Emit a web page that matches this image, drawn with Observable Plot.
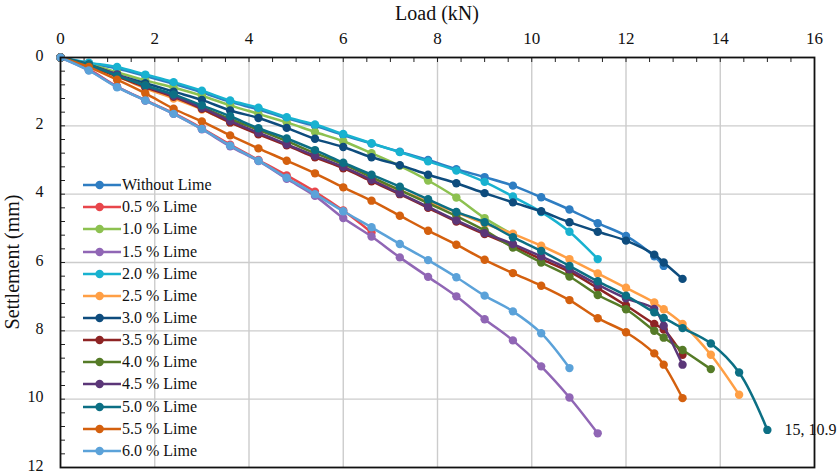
<!DOCTYPE html>
<html><head><meta charset="utf-8">
<script src="https://cdn.jsdelivr.net/npm/d3@7"></script>
<script src="https://cdn.jsdelivr.net/npm/@observablehq/plot@0.6"></script>
<style>
body{margin:0;background:#fff;}
#wrap{position:relative;width:837px;height:474px;font-family:'Liberation Serif','Tinos','DejaVu Serif',serif;color:#111;}
#legend{position:absolute;left:83px;top:174px;font-size:16px;}
.row{height:22.17px;display:flex;align-items:center;white-space:nowrap;}
.row svg{display:block;}
#xtitle{position:absolute;left:437px;top:2px;transform:translateX(-50%);font-size:20px;line-height:22px;white-space:nowrap;}
#ytitle{position:absolute;left:12px;top:262px;transform:translate(-50%,-50%) rotate(-90deg);font-size:20px;line-height:22px;white-space:nowrap;}
</style></head><body>
<div id="wrap"><div id="xtitle">Load (kN)</div><div id="ytitle">Settlement (mm)</div></div>
<script>
// Load steps (kN)
const loads = [0, 0.6, 1.2, 1.8, 2.4, 3.0, 3.6, 4.2, 4.8, 5.4, 6.0, 6.6, 7.2, 7.8, 8.4, 9.0, 9.6, 10.2, 10.8, 11.4, 12.0, 12.6, 12.8, 13.2, 13.8, 14.4, 15.0];

// Settlement (mm) per series, in load order
const withoutLime = [0,0.17,0.32,0.54,0.77,1.02,1.3,1.52,1.78,2.0,2.27,2.52,2.76,3.0,3.27,3.5,3.75,4.09,4.45,4.85,5.22,5.82,6.1];
const lime05 = [0,0.35,0.85,1.25,1.63,2.07,2.55,3.0,3.45,3.93,4.48,5.12];
const lime10 = [0,0.19,0.43,0.67,0.88,1.12,1.4,1.65,1.9,2.18,2.45,2.8,3.17,3.6,4.1,4.7,5.18];
const lime15 = [0,0.37,0.86,1.26,1.65,2.1,2.6,3.03,3.55,4.05,4.7,5.24,5.85,6.42,6.99,7.66,8.28,9.04,9.95,11.0];
const lime20 = [0,0.15,0.28,0.5,0.72,0.97,1.26,1.47,1.75,1.96,2.24,2.51,2.77,3.04,3.31,3.64,4.07,4.52,5.1,5.9];
const lime25 = [0,0.25,0.55,0.9,1.2,1.52,1.9,2.22,2.55,2.9,3.22,3.57,3.88,4.22,4.53,4.86,5.16,5.51,5.9,6.32,6.74,7.17,7.37,7.8,8.7,9.87];
const lime30 = [0,0.2,0.5,0.75,1.0,1.24,1.55,1.77,2.06,2.38,2.62,2.92,3.15,3.43,3.68,3.97,4.24,4.5,4.82,5.1,5.36,5.77,6.0,6.48];
const lime35 = [0,0.25,0.55,0.87,1.15,1.5,1.9,2.25,2.57,2.92,3.24,3.62,4.0,4.4,4.8,5.17,5.52,5.9,6.27,6.75,7.26,7.8,7.96,8.7];
const lime40 = [0,0.22,0.52,0.82,1.1,1.45,1.8,2.12,2.45,2.8,3.12,3.5,3.88,4.26,4.64,5.06,5.56,6.0,6.41,6.95,7.37,8.0,8.2,8.56,9.12];
const lime45 = [0,0.24,0.5,0.84,1.12,1.47,1.86,2.2,2.54,2.88,3.2,3.58,3.98,4.37,4.77,5.14,5.46,5.82,6.2,6.65,7.05,7.36,7.85,8.99];
const lime50 = [0,0.22,0.53,0.82,1.08,1.4,1.72,2.07,2.37,2.71,3.08,3.43,3.78,4.15,4.52,4.82,5.26,5.66,6.1,6.55,6.97,7.46,7.62,7.92,8.37,9.22,10.9];
const lime55 = [0,0.28,0.65,1.05,1.5,1.87,2.28,2.66,3.02,3.39,3.8,4.19,4.63,5.07,5.48,5.92,6.31,6.68,7.1,7.63,8.04,8.66,8.99,9.97];
const lime60 = [0,0.38,0.87,1.26,1.65,2.09,2.58,3.02,3.52,4.0,4.5,4.97,5.46,5.93,6.43,6.97,7.43,8.07,9.09];

const seriesNames = ["Without Lime","0.5 % Lime","1.0 % Lime","1.5 % Lime","2.0 % Lime","2.5 % Lime","3.0 % Lime","3.5 % Lime","4.0 % Lime","4.5 % Lime","5.0 % Lime","5.5 % Lime","6.0 % Lime"];
const seriesValues = [withoutLime, lime05, lime10, lime15, lime20, lime25, lime30, lime35, lime40, lime45, lime50, lime55, lime60];
const seriesColors = ["#2E7DC2","#E8464B","#8DC150","#9066B5","#18B2D0","#FF9F45","#0E4C7D","#8E2424","#557B27","#5B3678","#0C6F84","#D4600E","#5BA2D9"];

// Axis ticks
const xTicks = [0, 2, 4, 6, 8, 10, 12, 14, 16];
const yTicks = [0, 2, 4, 6, 8, 10, 12];
const xMinor = d3.range(0, 16.001, 0.5);
const yMinor = d3.range(0, 12.001, 0.4);

const series = seriesNames.map((name, i) => ({
  name, color: seriesColors[i],
  data: seriesValues[i].map((v, j) => ({load: loads[j], settlement: v, series: name}))
}));

const lastTeal = series[10].data[series[10].data.length - 1];

const seriesMarks = series.flatMap(s => [
  Plot.line(s.data, {x: "load", y: "settlement", stroke: s.color, strokeWidth: 2.5, curve: "catmull-rom"}),
  Plot.dot(s.data, {x: "load", y: "settlement", fill: s.color, r: 4.2})
]);

const FONT = "'Liberation Serif', 'Tinos', 'DejaVu Serif', serif";

const chart = Plot.plot({
  width: 837, height: 474,
  marginLeft: 60, marginRight: 23, marginTop: 57, marginBottom: 7,
  style: {fontFamily: FONT, background: "transparent", color: "#111", overflow: "visible"},
  x: {domain: [0, 16]},
  y: {domain: [0, 12], reverse: true},
  marks: [
    Plot.gridX(xTicks.filter(v => v > 0 && v < 16), {stroke: "#cccccc", strokeOpacity: 1, strokeWidth: 1.4}),
    Plot.gridY(yTicks.filter(v => v > 0 && v < 12), {stroke: "#cccccc", strokeOpacity: 1, strokeWidth: 1.4}),
    Plot.tickX(xMinor, {x: d => d, insetBottom: 405, stroke: "#222"}),
    Plot.tickY(yMinor, {y: d => d, insetRight: 749, stroke: "#222"}),
    Plot.axisX({anchor: "top", ticks: xTicks, tickSize: 0, tickPadding: 14, fontSize: 17, fontFamily: FONT, label: null}),
    Plot.axisY({anchor: "left", ticks: yTicks, tickSize: 0, tickPadding: 17, fontSize: 16, fontFamily: FONT, dy: -2, label: null}),
    ...seriesMarks,
    Plot.frame({stroke: "#111", strokeWidth: 1.8}),
    Plot.text([lastTeal], {x: "load", y: "settlement", text: d => `${d.load}, ${d.settlement}`, dx: 17, textAnchor: "start", fontSize: 16, fontFamily: FONT, fill: "#111"})
  ]
});
chart.style.position = "absolute";
chart.style.left = "0px";
chart.style.top = "0px";
const wrap = document.getElementById("wrap");
wrap.insertBefore(chart, wrap.firstChild);

// Legend (inside plot area, top-left)
const legend = d3.select(wrap).append("div").attr("id", "legend");
series.forEach(s => {
  const row = legend.append("div").attr("class", "row");
  const svg = row.append("svg").attr("width", 39).attr("height", 22);
  svg.append("line").attr("x1", 0).attr("x2", 38).attr("y1", 11).attr("y2", 11).attr("stroke", s.color).attr("stroke-width", 2.5);
  svg.append("circle").attr("cx", 16.6).attr("cy", 11).attr("r", 4.2).attr("fill", s.color);
  row.append("span").text(s.name);
});
</script>
</body></html>
